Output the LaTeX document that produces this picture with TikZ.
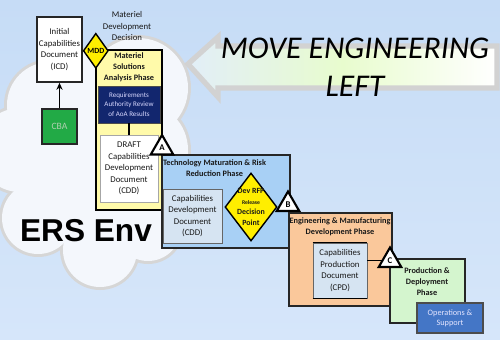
\documentclass[tikz,border=0pt]{standalone}
\usepackage{fontspec}
\setmainfont{Carlito}
\newfontfamily\ersfont{Liberation Sans}
\usetikzlibrary{shapes.geometric,arrows.meta}

\definecolor{skytop}{RGB}{198,220,246}
\definecolor{skybottom}{RGB}{214,230,250}
\definecolor{cloudline}{RGB}{214,214,214}
\definecolor{cloudfill}{RGB}{244,247,252}
\definecolor{msayellow}{RGB}{255,250,170}
\definecolor{mddyellow}{RGB}{255,238,0}
\definecolor{rarnavy}{RGB}{18,38,110}
\definecolor{tmrrblue}{RGB}{168,208,245}
\definecolor{docblue}{RGB}{214,228,242}
\definecolor{emdorange}{RGB}{250,200,155}
\definecolor{pdgreen}{RGB}{212,245,206}
\definecolor{osblue}{RGB}{68,118,198}
\definecolor{cbagreen}{RGB}{34,170,70}
\definecolor{arrowtip}{RGB}{226,238,248}
\definecolor{arrowgreen}{RGB}{232,252,206}
\definecolor{arrowline}{RGB}{210,210,210}

\begin{document}
\begin{tikzpicture}[x=0.02cm, y=-0.02cm,
  phasebox/.style={draw=black!85, line width=0.85pt, inner sep=0pt},
  docbox/.style={draw=black!60, line width=0.5pt, fill=docblue, inner sep=0pt},
  tinytext/.style={font=\fontsize{5}{6.6}\selectfont, align=center, text=black!90},
  titletext/.style={font=\bfseries\fontsize{4.7}{6.3}\selectfont, align=center, text=black!90},
  gate/.style={diamond, draw=black, line width=0.8pt, fill=mddyellow, inner sep=0pt},
  milestone/.style={regular polygon, regular polygon sides=3, draw=black, line width=1.2pt,
    fill=white, inner sep=0pt, minimum size=0.52cm, font=\bfseries\fontsize{5}{6}\selectfont}]
\useasboundingbox (0,0) rectangle (500,339);
\clip (0,0) rectangle (500,339);
\shade[top color=skytop, bottom color=skybottom] (0,0) rectangle (500,339);

\foreach \cx/\cy/\r in {50/105/43, 138/88/50, 90/90/40, 140/150/48, 20/150/42, 38/218/36, 100/250/37, 148/228/33, 90/165/75}
  \draw[cloudline, line width=3.4pt] (\cx,\cy) circle (\r);
\foreach \cx/\cy/\r in {50/105/43, 138/88/50, 90/90/40, 140/150/48, 20/150/42, 38/218/36, 100/250/37, 148/228/33, 90/165/75}
  \fill[cloudfill] (\cx,\cy) circle (\r);

\draw[arrowline, line width=3pt, left color=arrowtip, right color=white, middle color=arrowgreen]
  (188,64) -- (218,37) -- (218,46) -- (497,46) -- (497,88) -- (218,88) -- (218,97) -- cycle;
\node[font=\itshape\fontsize{18}{21.5}\selectfont, align=center] (slogan) at (355,67.3) {MOVE ENGINEERING\\LEFT};

\node[font=\ersfont\bfseries\fontsize{18}{20}\selectfont] (ers) at (86,230.5) {ERS Env};

\node[phasebox, fill=white, minimum width=0.9cm, minimum height=1.3cm, tinytext] (icd) at (59.5,49.5) {Initial\\Capabilities\\Document\\(ICD)};
\node[phasebox, fill=cbagreen, minimum size=0.7cm, font=\fontsize{5.5}{6}\selectfont, text=green!25!gray!50!white] (cba) at (59.5,126.5) {CBA};
\draw[-{Stealth[length=4pt,width=3.5pt]}, line width=0.8pt] (cba) -- (icd);

\node[tinytext] (mddlabel) at (127,26) {Materiel\\Development\\Decision};

\node[phasebox, draw=black, fill=msayellow, minimum width=1.32cm, minimum height=3.2cm] (msa) at (129,130) {};
\node[titletext] (msatitle) at (129,67) {Materiel\\Solutions\\Analysis Phase};
\node[draw=black!70, fill=rarnavy, minimum width=1.24cm, minimum height=0.74cm, inner sep=0pt,
  font=\fontsize{4}{5.4}\selectfont, align=center, text=white!85!blue] (rar) at (129,104.5) {Requirements\\Authority Review\\of AoA Results};
\node[draw=black!35, fill=white, minimum width=1.16cm, minimum height=1.34cm, inner sep=0pt, tinytext] (dcdd) at (129,168.5) {DRAFT\\Capabilities\\Development\\Document\\(CDD)};
\draw[line width=0.8pt] (rar) -- (dcdd);

\node[gate, minimum width=0.5cm, minimum height=0.7cm, font=\bfseries\fontsize{4.5}{5}\selectfont] (mdd) at (95.8,50.8) {MDD};

\node[phasebox, fill=tmrrblue, minimum width=2.56cm, minimum height=1.86cm] (tmrr) at (226,201.5) {};
\node[titletext] (tmrrtitle) at (214.5,168) {Technology Maturation \& Risk\\Reduction Phase};
\node[docbox, minimum width=1.18cm, minimum height=1.08cm, tinytext] (cdd) at (192.5,216) {Capabilities\\Development\\Document\\(CDD)};
\node[gate, minimum width=1.04cm, minimum height=1.36cm] (rfp) at (251,207) {};
\node[titletext, font=\bfseries\fontsize{4.5}{6}\selectfont] (rfptext) at (rfp) {Dev RFP\\{\fontsize{3.2}{6}\selectfont Release}\\Decision\\Point};

\node[milestone] (msA) at (162,148) {A};
\node[milestone] (msB) at (288,204.5) {B};

\node[phasebox, fill=emdorange, minimum width=2.06cm, minimum height=1.86cm] (emd) at (340.5,259.5) {};
\node[titletext] (emdtitle) at (340,226.5) {Engineering \& Manufacturing\\Development Phase};
\node[docbox, minimum width=1.08cm, minimum height=1.1cm, tinytext] (cpd) at (340,270.5) {Capabilities\\Production\\Document\\(CPD)};
\draw[line width=1pt] (cpd.north west) -- (cpd.north east) (cpd.south west) -- (cpd.south east);

\node[phasebox, fill=pdgreen, minimum width=1.5cm, minimum height=1.28cm] (pd) at (427.5,291) {};
\node[titletext] (pdtitle) at (427,281.5) {Production \&\\Deployment\\Phase};
\node[draw=black!70, line width=0.8pt, fill=osblue, minimum width=1.32cm, minimum height=0.6cm, inner sep=0pt,
  font=\fontsize{4.7}{5.6}\selectfont, align=center, text=white!90!blue] (os) at (450,318) {Operations \&\\Support};

\coordinate (msCpos) at (390,260.5);
\draw[line width=0.8pt] (cpd.east |- msCpos) -- (msCpos);
\node[milestone] (msC) at (msCpos) {C};
\end{tikzpicture}
\end{document}
